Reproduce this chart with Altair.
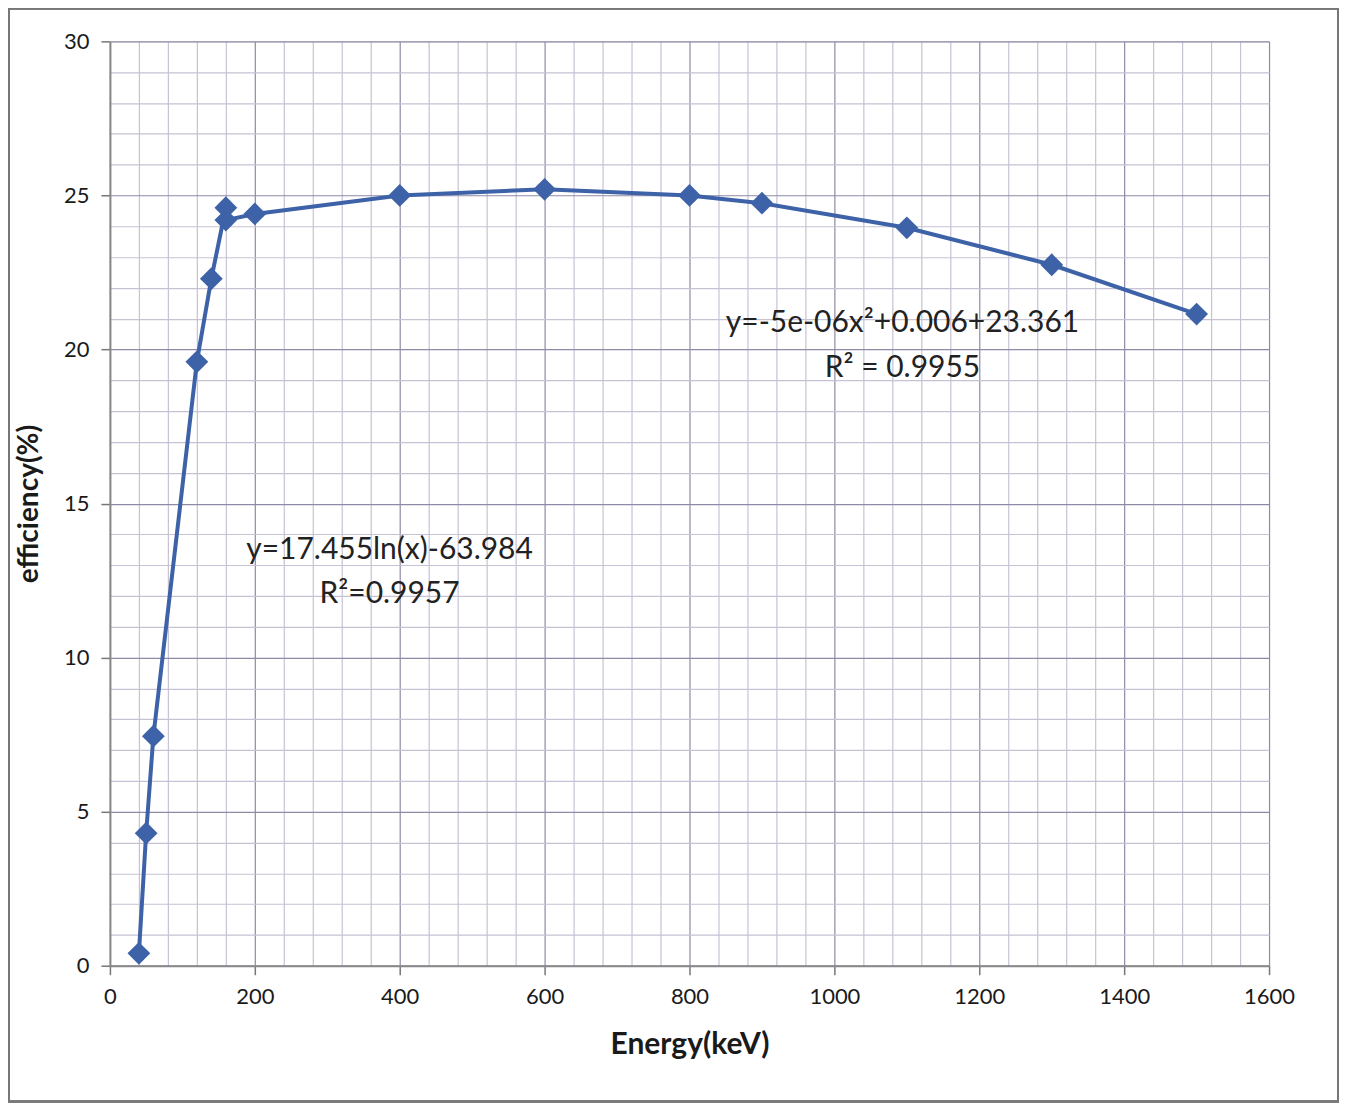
import altair as alt
import pandas as pd

energy = [40, 50, 60, 120, 140, 160, 160, 200, 400, 600, 800, 900, 1100, 1300, 1500]
efficiency = [0.4, 4.3, 7.45, 19.6, 22.3, 24.6, 24.2, 24.4, 25.0, 25.2, 25.0, 24.75, 23.95, 22.75, 21.15]

ann_text = ["y=-5e-06x²+0.006+23.361", "R² = 0.9955", "y=17.455ln(x)-63.984", "R²=0.9957"]
ann_x = [1094, 1094, 386, 386]
ann_y = [20.85, 19.4, 13.5, 12.05]

df = pd.DataFrame({"energy": energy, "eff": efficiency, "order": list(range(len(energy)))})
ann = pd.DataFrame({"text": ann_text, "x": ann_x, "y": ann_y})

FONT = "Lato"
W, H = 1160, 925
BLUE = "#3d62a8"

x_scale = alt.Scale(domain=[0, 1600], nice=False, zero=True)
y_scale = alt.Scale(domain=[0, 30], nice=False)

x_axis = alt.Axis(
    values=list(range(0, 1601, 40)),
    tickCount=200,
    format="d",
    labelExpr="datum.value % 200 === 0 ? datum.label : ''",
    labelOverlap=False,
    labelFlush=False,
    grid=True,
    gridColor={"condition": {"test": "datum.value % 200 === 0", "value": "#8e8aa6"}, "value": "#c6c2d4"},
    gridWidth=1.2,
    tickSize={"condition": {"test": "datum.value % 200 === 0", "value": 9}, "value": 0},
    tickColor="#777777",
    tickWidth=1.5,
    domainColor="#888888",
    domainWidth=2,
    labelFont=FONT, labelFontSize=22, labelColor="#1a1a1a", labelPadding=12,
    title="Energy(keV)", titleFont=FONT, titleFontSize=30, titleFontWeight="bold",
    titleColor="#1a1a1a", titlePadding=22,
)
y_axis = alt.Axis(
    values=list(range(0, 31, 1)),
    tickCount=200,
    format="d",
    labelExpr="datum.value % 5 === 0 ? datum.label : ''",
    labelOverlap=False,
    labelFlush=False,
    grid=True,
    gridColor={"condition": {"test": "datum.value % 5 === 0", "value": "#8e8aa6"}, "value": "#c6c2d4"},
    gridWidth=1.2,
    tickSize={"condition": {"test": "datum.value % 5 === 0", "value": 9}, "value": 0},
    tickColor="#777777",
    tickWidth=1.5,
    domainColor="#888888",
    domainWidth=2,
    labelFont=FONT, labelFontSize=22, labelColor="#1a1a1a", labelPadding=12,
    title="efficiency(%)", titleFont=FONT, titleFontSize=28, titleFontWeight="bold",
    titleColor="#1a1a1a", titlePadding=20,
)

base = alt.Chart(df)
line = base.mark_line(color=BLUE, strokeWidth=4).encode(
    x=alt.X("energy:Q", scale=x_scale, axis=x_axis),
    y=alt.Y("eff:Q", scale=y_scale, axis=y_axis),
    order="order:Q",
)
points = base.mark_point(shape="diamond", filled=True, size=520, color=BLUE, opacity=1).encode(
    x=alt.X("energy:Q", scale=x_scale),
    y=alt.Y("eff:Q", scale=y_scale),
)
texts = alt.Chart(ann).mark_text(font=FONT, fontSize=30, color="#222222", align="center", baseline="middle").encode(
    x=alt.X("x:Q", scale=x_scale),
    y=alt.Y("y:Q", scale=y_scale),
    text="text:N",
)
frame = alt.Chart(ann).mark_rect(fill=None, stroke="#777777", strokeWidth=2).encode(
    x=alt.value(-101), x2=alt.value(W + 69),
    y=alt.value(-33), y2=alt.value(H + 136),
)

chart = alt.layer(frame, line, points, texts).properties(
    width=W, height=H,
    autosize=alt.AutoSizeParams(type="none"),
    padding={"left": 102, "top": 33, "right": 70, "bottom": 150},
).configure_view(stroke="#888888", strokeWidth=1.5).configure(background="white")

chart.save("out.html", embed_options={"renderer": "svg", "actions": False})
